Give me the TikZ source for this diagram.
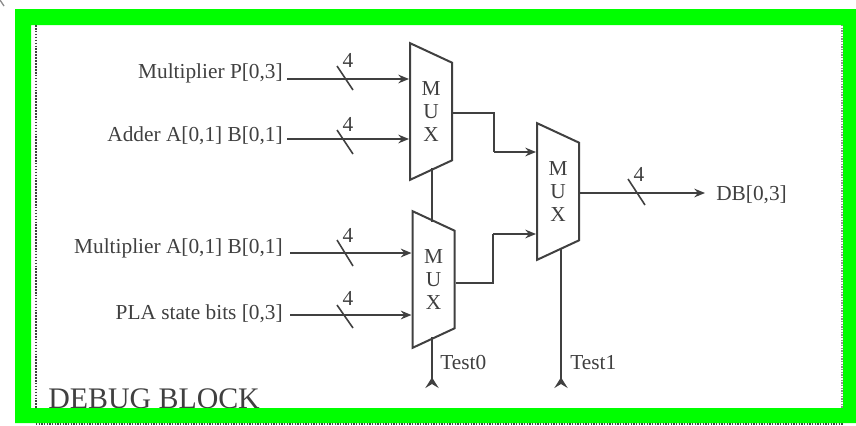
\documentclass[tikz,border=0pt]{standalone}
\usepackage{fontspec}
\setmainfont{Liberation Serif}
\usetikzlibrary{shapes.geometric, arrows.meta}
\definecolor{framegreen}{RGB}{0,255,0}
\definecolor{wire}{gray}{0.25}
\tikzset{
  mux/.style={draw=wire, line width=1.5pt, trapezium, shape border rotate=270,
    trapezium angle=58, trapezium stretches=true, minimum width=103pt,
    minimum height=31.5pt, inner sep=0pt, align=center, text=wire,
    font=\fontsize{16}{17}\selectfont},
  lbl/.style={text=wire, inner sep=0pt, font=\fontsize{16}{18}\selectfont},
  bus/.style={draw=wire, line width=1.8pt},
  slash/.style={draw=wire, line width=1.2pt},
  sel/.style={draw=wire, line width=1.5pt, -{Stealth[reversed, length=8pt, width=10pt, inset=3pt]}}
}
\begin{document}
\begin{tikzpicture}[>={Stealth[length=8pt, width=6.5pt]}, x=0.75pt, y=-0.75pt]
  \useasboundingbox (0, 0) rectangle (856, 425);

  % the three muxes
  \node[mux] (muxa) at (431, 111.5) {M\\U\\X};
  \node[mux] (muxb) at (433.5, 279.5) {M\\U\\X};
  \node[mux] (muxc) at (558, 191.5) {M\\U\\X};

  % inputs
  \node[lbl, anchor=east] (pin) at (283, 73) {Multiplier P[0,3]};
  \node[lbl, anchor=east] (addin) at (283, 136) {Adder A[0,1] B[0,1]};
  \node[lbl, anchor=east] (mulin) at (283, 248) {Multiplier A[0,1] B[0,1]};
  \node[lbl, anchor=east] (plain) at (283, 314) {PLA state bits [0,3]};
  \coordinate (pstart) at (287, 79);
  \coordinate (addstart) at (287, 139);
  \coordinate (mulstart) at (290, 253);
  \coordinate (plastart) at (290, 315);
  \draw[bus, ->] (pstart) -- (pstart -| muxa.west);
  \draw[bus, ->] (addstart) -- (addstart -| muxa.west);
  \draw[bus, ->] (mulstart) -- (mulstart -| muxb.west);
  \draw[bus, ->] (plastart) -- (plastart -| muxb.west);

  % width marks
  \draw[slash] (337, 66) -- (353, 90);
  \draw[slash] (337, 130) -- (353, 154);
  \draw[slash] (337, 240) -- (353, 266);
  \draw[slash] (337, 305) -- (353, 328);
  \draw[slash] (628, 179) -- (645, 205);
  \node[lbl] (wa) at (348, 60) {4};
  \node[lbl] (wb) at (348, 124) {4};
  \node[lbl] (wc) at (348, 235) {4};
  \node[lbl] (wd) at (348, 298) {4};
  \node[lbl] (we) at (639, 174) {4};

  % between the muxes
  \coordinate (bendA) at (494, 113);
  \coordinate (bendB) at (493, 283);
  \draw[bus] (muxa.east |- bendA) -- (bendA) -- (494, 152) edge[->] (muxc.west |- 0, 152);
  \draw[bus] (muxb.east |- bendB) -- (bendB) -- (493, 234) edge[->] (muxc.west |- 0, 234);
  \draw[bus, line width=1.5pt] (432, 168) -- (432, 222);

  % output
  \node[lbl, anchor=west] (dbout) at (716, 195) {DB[0,3]};
  \coordinate (dbend) at (705, 193);
  \draw[bus, ->] (muxc.east |- dbend) -- (dbend);

  % selects
  \coordinate (sela) at (432, 388);
  \coordinate (selb) at (561, 388);
  \draw[sel] (432, 337) -- (sela);
  \draw[sel] (561, 248) -- (selb);
  \node[lbl, anchor=west] (testa) at (440, 363) {Test0};
  \node[lbl, anchor=west] (testb) at (570, 363) {Test1};

  \node[lbl, anchor=base west, font=\fontsize{22.4}{24}\selectfont] (debug) at (48, 408) {DEBUG BLOCK};

  % dotted box and green frame
  \draw[wire, densely dotted, line width=1.2pt] (36, 25) -- (36, 408);
  \draw[wire!60, densely dotted, line width=1pt] (842, 25) -- (842, 408);
  \draw[wire, densely dotted, line width=1pt] (36, 424) -- (843, 424);
  \fill[framegreen, even odd rule] (15, 9) rectangle (856, 423) (31, 25) rectangle (843, 408);
  \draw[wire!60, line width=1pt] (0, 0) -- (4, 6);
\end{tikzpicture}
\end{document}
